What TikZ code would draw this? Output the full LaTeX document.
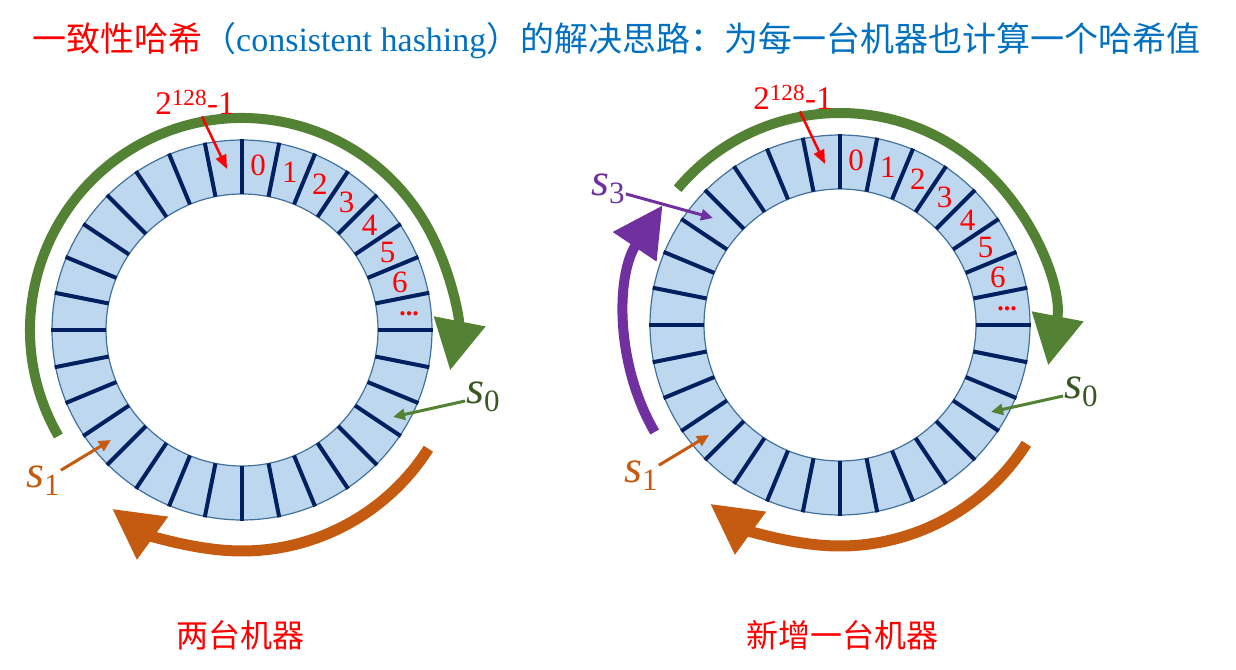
\documentclass[tikz,border=0pt]{standalone}
\usepackage{fontspec}
\setmainfont{Liberation Serif}
\newfontfamily\cjk{Noto Sans CJK SC}
\usepackage{tikz}
\usetikzlibrary{arrows.meta}
\definecolor{ringfill}{RGB}{189,215,238}
\definecolor{ringedge}{RGB}{65,113,156}
\definecolor{ticknavy}{RGB}{0,32,96}
\definecolor{arcgreen}{RGB}{84,130,53}
\definecolor{sgreen}{RGB}{56,87,35}
\definecolor{arcorange}{RGB}{197,90,17}
\definecolor{arcpurple}{RGB}{112,48,160}
\definecolor{titleblue}{RGB}{0,112,192}
\definecolor{hashred}{RGB}{255,0,0}
\newcommand\srv[1]{{\fontsize{46}{46}\selectfont\itshape s}\raisebox{-8pt}{\fontsize{31}{31}\selectfont #1}}
\tikzset{
  bigarc/.style={line width=10pt,-{Triangle[length=50pt,width=50pt]}},
  ptr/.style={line width=3pt,-{Triangle[length=12pt,width=11pt]}},
  hashnum/.style={text=hashred,font=\fontsize{31}{31}\selectfont},
  slabel/.style={inner sep=1pt},
  caption/.style={text=hashred,font=\cjk\fontsize{32}{32}\selectfont}
}

\begin{document}
\begin{tikzpicture}[x=1pt,y=1pt]
  \useasboundingbox (0,0) rectangle (1236,669);
  \node[anchor=west,inner sep=0pt,font=\fontsize{34}{34}\selectfont] (title) at (32,628)
    {\textcolor{hashred}{\cjk 一致性哈希}\textcolor{titleblue}{{\cjk （}consistent hashing{\cjk ）的解决思路：为每一台机器也计算一个哈希值}}};
  \foreach \cx/\cy/\gs/\i in {242/339/210/l,840/344/140/r}{
    \begin{scope}[shift={(\cx,\cy)}]
      \fill[ringfill,even odd rule] (0,0) circle (190) (0,0) circle (136);
      \draw[ringedge,line width=1.2pt] (0,0) circle (190) (0,0) circle (136);
      \foreach \a in {0,...,31}{\draw[ticknavy,line width=4pt] (90-11.25*\a:136) -- (90-11.25*\a:191);}
      \foreach \n in {0,...,6}{\node[hashnum] at (84.375-11.25*\n:165) {\n};}
      \node[hashnum,font=\bfseries\fontsize{26}{26}\selectfont] (dots\i) at (5.625:168) {...};
      \draw[bigarc,arcgreen] (\gs:212) arc[start angle=\gs,end angle=-11,radius=212];
      \draw[bigarc,arcorange,line width=11pt] (-32.5:221) arc[start angle=-32.5,end angle=-126,radius=221];
      \node[text=hashred,font=\fontsize{33}{33}\selectfont,inner sep=2pt] (top\i) at (-47,228) {2\textsuperscript{128}-1};
      \coordinate (zero\i) at (-15,161);
      \draw[hashred,line width=2.5pt,-{Triangle[length=14pt,width=11pt]}] (top\i) -- (zero\i);
      \node[slabel,text=sgreen] (szero\i) at (241,-67) {\srv{0}};
      \coordinate (hitzero\i) at (151,-87);
      \draw[ptr,arcgreen] (szero\i) -- (hitzero\i);
      \node[slabel,text=arcorange] (sone\i) at (-199,-151) {\srv{1}};
      \coordinate (hitone\i) at (-131,-110);
      \draw[ptr,arcorange] (sone\i) -- (hitone\i);
    \end{scope}
  }
  \begin{scope}[shift={(840,344)}]
    \draw[bigarc,arcpurple] (210:214) arc[start angle=210,end angle=146,radius=214];
    \node[slabel,text=arcpurple] (sthree) at (-232,136) {\srv{3}};
    \coordinate (hitthree) at (-127,107);
    \draw[ptr,arcpurple] (sthree) -- (hitthree);
  \end{scope}
  \node[caption] (twocap) at (240,34) {两台机器};
  \node[caption] (addcap) at (842,34) {新增一台机器};
\end{tikzpicture}
\end{document}
